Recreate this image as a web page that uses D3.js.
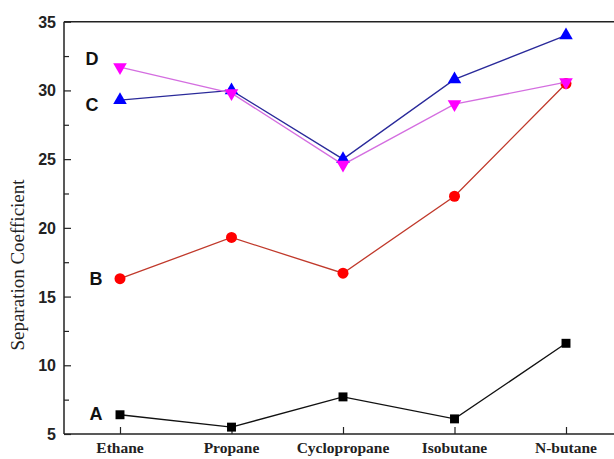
<!DOCTYPE html>
<html>
<head>
<meta charset="utf-8">
<script src="https://cdn.jsdelivr.net/npm/d3@7"></script>
<style>
html, body { margin: 0; padding: 0; background: #fff; overflow: hidden; }
svg { display: block; }
</style>
</head>
<body>
<svg id="chart" width="614" height="459"></svg>
<script>
var categories = ["Ethane", "Propane", "Cyclopropane", "Isobutane", "N-butane"];
var seriesA = [6.4, 5.5, 7.7, 6.1, 11.6];
var seriesB = [16.3, 19.3, 16.7, 22.3, 30.5];
var seriesC = [29.3, 30.0, 25.0, 30.8, 34.0];
var seriesD = [31.7, 29.8, 24.6, 29.0, 30.6];
var yTicks = [5, 10, 15, 20, 25, 30, 35];

var svg = d3.select("#chart");
var axisLeft = 64, axisRight = 622;

var x = d3.scalePoint().domain(categories).range([120, 566]);
var y = d3.scaleLinear().domain([5, 35]).range([434, 21.7]);

var series = [
    {name: "A", values: seriesA, line: "#111111", fill: "#000000", shape: d3.symbolSquare, size: 80},
    {name: "B", values: seriesB, line: "#c0392b", fill: "#ff0000", shape: d3.symbolCircle, size: 95},
    {name: "C", values: seriesC, line: "#2a2a9a", fill: "#0000ff", shape: d3.symbolTriangle, size: 80},
    {name: "D", values: seriesD, line: "#d46ee0", fill: "#ff00ff", shape: d3.symbolTriangle, size: 80, flip: true}
];

// frame
svg.append("line").attr("x1", axisLeft).attr("x2", axisLeft).attr("y1", y(35)).attr("y2", y(5))
    .attr("stroke", "#222").attr("stroke-width", 1.5);
svg.append("line").attr("x1", axisLeft).attr("x2", axisRight).attr("y1", y(35)).attr("y2", y(35))
    .attr("stroke", "#222").attr("stroke-width", 1.5);
svg.append("line").attr("x1", axisLeft).attr("x2", axisRight).attr("y1", y(5)).attr("y2", y(5))
    .attr("stroke", "#222").attr("stroke-width", 1.5);

// y axis, major and minor ticks pointing in
var yMajor = d3.axisRight(y).tickValues(yTicks).tickSize(7).tickFormat("");
svg.append("g").attr("transform", "translate(" + axisLeft + ",0)").call(yMajor)
    .call(function(g){ g.select(".domain").remove(); })
    .selectAll("line").attr("stroke", "#222").attr("stroke-width", 1.2);
var yMinor = d3.axisRight(y).tickValues([7.5, 12.5, 17.5, 22.5, 27.5, 32.5]).tickSize(5).tickFormat("");
svg.append("g").attr("transform", "translate(" + axisLeft + ",0)").call(yMinor)
    .call(function(g){ g.select(".domain").remove(); })
    .selectAll("line").attr("stroke", "#222").attr("stroke-width", 1.2);

svg.append("g").selectAll("text").data(yTicks).enter().append("text")
    .attr("x", 56).attr("y", function(d){ return y(d) + 6; })
    .attr("text-anchor", "end")
    .attr("font-family", "Liberation Sans, Arial, sans-serif")
    .attr("font-weight", "bold").attr("font-size", 16).attr("fill", "#222")
    .text(function(d){ return d; });

// x axis
var xAxis = d3.axisTop(x).tickSize(7).tickFormat("");
svg.append("g").attr("transform", "translate(0," + y(5) + ")").call(xAxis)
    .call(function(g){ g.select(".domain").remove(); })
    .selectAll("line").attr("stroke", "#222").attr("stroke-width", 1.2);

svg.append("g").selectAll("text").data(categories).enter().append("text")
    .attr("x", function(d){ return x(d); }).attr("y", 453)
    .attr("text-anchor", "middle")
    .attr("font-family", "Liberation Serif, Times New Roman, serif")
    .attr("font-weight", "bold").attr("font-size", 15.5).attr("fill", "#222")
    .text(function(d){ return d; });

svg.append("text")
    .attr("transform", "translate(24,265) rotate(-90)")
    .attr("text-anchor", "middle")
    .attr("font-family", "Liberation Serif, Times New Roman, serif")
    .attr("font-size", 19).attr("fill", "#222")
    .text("Separation Coefficient");

// lines + markers
var line = d3.line()
    .x(function(d, i){ return x(categories[i]); })
    .y(function(d){ return y(d); });

series.forEach(function(s){
    svg.append("path").datum(s.values)
        .attr("d", line).attr("fill", "none")
        .attr("stroke", s.line).attr("stroke-width", 1.3);
    svg.append("g").selectAll("path").data(s.values).enter().append("path")
        .attr("d", d3.symbol().type(s.shape).size(s.size))
        .attr("transform", function(d, i){
            return "translate(" + x(categories[i]) + "," + y(d) + ")" + (s.flip ? " rotate(180)" : "");
        })
        .attr("fill", s.fill);
});

// series labels
var labels = [
    {name: "D", x: 92, v: 32.3},
    {name: "C", x: 92, v: 29.0},
    {name: "B", x: 96, v: 16.35},
    {name: "A", x: 96, v: 6.5}
];
svg.append("g").selectAll("text").data(labels).enter().append("text")
    .attr("x", function(d){ return d.x; }).attr("y", function(d){ return y(d.v) + 6.5; })
    .attr("text-anchor", "middle")
    .attr("font-family", "Liberation Sans, Arial, sans-serif")
    .attr("font-weight", "bold").attr("font-size", 18).attr("fill", "#111")
    .text(function(d){ return d.name; });
</script>
</body>
</html>
